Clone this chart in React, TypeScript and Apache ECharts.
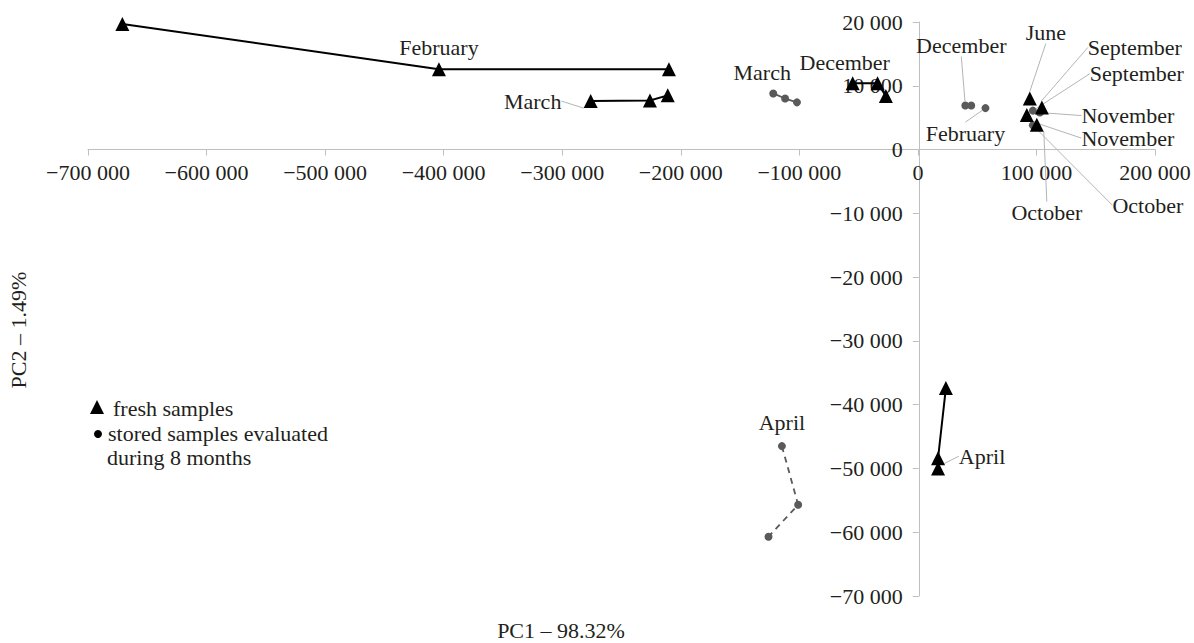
import React, { useEffect, useRef } from 'react';
import * as echarts from 'echarts';

// ---- data (PC1, PC2 scores) ----
const freshFebruary = [[-671000, 19700], [-404000, 12600], [-210000, 12600]];
const freshFebruaryLabels = ['', 'February', ''];
const freshMarch = [[-276000, 7600], [-226000, 7700], [-211000, 8500]];
const freshMarchLabels = ['March', '', ''];
const freshDecember = [[-55000, 10400], [-34000, 10400], [-27000, 8400]];
const freshDecemberLabels = ['December', '', ''];
const freshApril = [[23600, -37400], [17000, -48400], [17000, -50000]];
const freshAprilLabels = ['', 'April', ''];
const freshAutumn = [[94400, 8000], [104600, 6600], [91900, 5400], [100300, 3900]];
const freshAutumnLabels = ['June', 'September', 'November', 'October'];

const storedMarch = [[-122000, 8800], [-112000, 8000], [-102000, 7400]];
const storedMarchLabels = ['March', '', ''];
const storedApril = [[-114700, -46500], [-101000, -55700], [-126000, -60700]];
const storedAprilLabels = ['April', '', ''];
const storedWinter = [[40000, 6900], [45000, 6900], [57000, 6500]];
const storedWinterLabels = ['December', '', 'February'];
const storedAutumn = [[97000, 6100], [102900, 5800], [97000, 3800]];
const storedAutumnLabels = ['September', 'November', 'October'];

const xMin = -700000, xMax = 200000, xStep = 100000;
const yMin = -70000, yMax = 20000, yStep = 10000;

// ---- label placement (pixel offsets from the mark; [dx, dy, leaderLine]) ----
type Off = [number, number, boolean] | null;
const offFreshFebruary: Off[] = [null, [0, -22, false], null];
const offFreshMarch: Off[] = [[-58, 0, true], null, null];
const offFreshDecember: Off[] = [[-8, -21, false], null, null];
const offFreshApril: Off[] = [null, [44, -2, true], null];
const offFreshAutumn: Off[] = [[16, -66, true], [93, -60, true], [101, 23, true], [10, 88, true]];
const offStoredMarch: Off[] = [[-11, -21, false], null, null];
const offStoredApril: Off[] = [[0, -24, false], null, null];
const offStoredWinter: Off[] = [[-4, -60, true], null, [-20, 25, true]];
const offStoredAutumn: Off[] = [[104, -37, true], [88, 3, true], [115, 80, true]];

const FONT = '"Liberation Serif", "Times New Roman", serif';
const FS = 22;
const TXT = '#231f20';
const FRESH_NAME = 'fresh samples';
const STORED_NAME = 'stored samples evaluated during 8 months';
const GRID = { left: 88, right: 39, top: 22, bottom: 47 };
const H = 643;

function fmt(v: number): string {
  const a = Math.abs(v);
  const s = String(a).replace(/\B(?=(\d{3})+(?!\d))/g, ' ');
  return (v < 0 ? '\u2212' : '') + s;
}

function makeSeries(
  name: string,
  data: number[][],
  labels: string[],
  offs: Off[],
  kind: 'fresh' | 'stored',
  line: 'solid' | 'dashed' | 'none'
): any {
  const fresh = kind === 'fresh';
  const color = fresh ? '#000000' : '#5a5a5a';
  const items = data.map((v, i) => ({
    value: v,
    label: {
      show: !!labels[i],
      formatter: labels[i] || '',
    },
    labelLine: { show: !!(offs[i] && offs[i]![2]) },
  }));
  return {
    name,
    type: line === 'none' ? 'scatter' : 'line',
    data: items,
    symbol: fresh ? 'triangle' : 'circle',
    symbolSize: fresh ? 14 : 8,
    showSymbol: true,
    itemStyle: { color, opacity: 1 },
    lineStyle: {
      color,
      width: fresh ? 2 : 1.8,
      type: line === 'dashed' ? [6, 5] : 'solid',
      opacity: line === 'none' ? 0 : 1,
    },
    label: {
      show: true,
      position: 'inside',
      fontFamily: FONT,
      fontSize: FS,
      color: TXT,
    },
    labelLine: {
      show: true,
      lineStyle: { color: '#b5b5b5', width: 1 },
    },
    labelLayout: (p: any) => {
      const o = offs[p.dataIndex];
      if (!o) return {};
      return { dx: o[0], dy: o[1] };
    },
    emphasis: { disabled: true },
    z: fresh ? 4 : 3,
  };
}

export default function App() {
  const ref = useRef<HTMLDivElement>(null);
  useEffect(() => {
    if (!ref.current) return;
    const chart = echarts.init(ref.current, null, { renderer: 'svg' });
    const axisCommon = {
      type: 'value',
      axisLine: { show: true, onZero: false, lineStyle: { color: '#bfbfbf', width: 1 } },
      axisTick: { show: true, length: 6, lineStyle: { color: '#bfbfbf' } },
      splitLine: { show: false },
      axisLabel: {
        fontFamily: FONT,
        fontSize: FS,
        color: TXT,
        formatter: (v: number) => fmt(v),
      },
    };
    const option: any = {
      animation: false,
      backgroundColor: '#ffffff',
      grid: { ...GRID, containLabel: false },
      xAxis: {
        ...axisCommon,
        position: 'bottom',
        min: xMin,
        max: xMax,
        interval: xStep,
        axisLabel: { ...axisCommon.axisLabel, margin: 12 },
      },
      yAxis: {
        ...axisCommon,
        position: 'left',
        min: yMin,
        max: yMax,
        interval: yStep,
        axisLabel: { ...axisCommon.axisLabel, margin: 16 },
      },
      series: [
        makeSeries(STORED_NAME, storedMarch, storedMarchLabels, offStoredMarch, 'stored', 'solid'),
        makeSeries(STORED_NAME, storedApril, storedAprilLabels, offStoredApril, 'stored', 'dashed'),
        makeSeries(STORED_NAME, storedWinter, storedWinterLabels, offStoredWinter, 'stored', 'none'),
        makeSeries(STORED_NAME, storedAutumn, storedAutumnLabels, offStoredAutumn, 'stored', 'none'),
        makeSeries(FRESH_NAME, freshFebruary, freshFebruaryLabels, offFreshFebruary, 'fresh', 'solid'),
        makeSeries(FRESH_NAME, freshMarch, freshMarchLabels, offFreshMarch, 'fresh', 'solid'),
        makeSeries(FRESH_NAME, freshDecember, freshDecemberLabels, offFreshDecember, 'fresh', 'solid'),
        makeSeries(FRESH_NAME, freshApril, freshAprilLabels, offFreshApril, 'fresh', 'solid'),
        makeSeries(FRESH_NAME, freshAutumn, freshAutumnLabels, offFreshAutumn, 'fresh', 'none'),
      ],
      graphic: [
        {
          type: 'text',
          x: 561,
          y: 630,
          style: {
            text: 'PC1 \u2013 98.32%',
            fontFamily: FONT,
            fontSize: FS,
            fill: TXT,
            align: 'center',
            verticalAlign: 'middle',
          },
        },
        {
          type: 'text',
          x: 18,
          y: 330,
          rotation: Math.PI / 2,
          style: {
            text: 'PC2 \u2013 1.49%',
            fontFamily: FONT,
            fontSize: FS,
            fill: TXT,
            align: 'center',
            verticalAlign: 'middle',
          },
        },
        {
          type: 'polygon',
          shape: { points: [[97, 400], [90, 414], [104, 414]] },
          style: { fill: '#000' },
        },
        {
          type: 'text',
          x: 113,
          y: 408,
          style: { text: 'fresh samples', fontFamily: FONT, fontSize: FS, fill: TXT, verticalAlign: 'middle' },
        },
        {
          type: 'circle',
          shape: { cx: 98, cy: 434, r: 4 },
          style: { fill: '#000' },
        },
        {
          type: 'text',
          x: 108,
          y: 433,
          style: { text: 'stored samples evaluated', fontFamily: FONT, fontSize: FS, fill: TXT, verticalAlign: 'middle' },
        },
        {
          type: 'text',
          x: 107,
          y: 457,
          style: { text: 'during 8 months', fontFamily: FONT, fontSize: FS, fill: TXT, verticalAlign: 'middle' },
        },
      ],
    };
    chart.setOption(option);
    // Move both axes (line, ticks and labels) so that they cross at the origin.
    const origin = chart.convertToPixel({ gridIndex: 0 }, [0, 0]) as number[];
    chart.setOption({
      xAxis: { offset: -((H - GRID.bottom) - origin[1]) },
      yAxis: { offset: -(origin[0] - GRID.left) },
    });
    return () => chart.dispose();
  }, []);
  return <div ref={ref} style={{ width: 1194, height: 643, position: 'absolute', left: 0, top: 0 }} />;
}
